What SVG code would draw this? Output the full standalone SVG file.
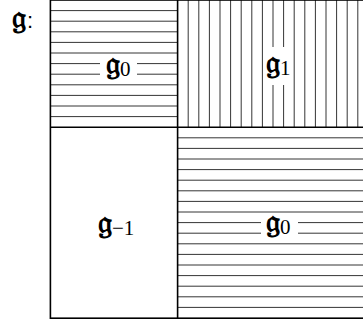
<svg xmlns="http://www.w3.org/2000/svg" width="363" height="322" viewBox="0 0 363 322">
<style>
.h{stroke:#000;stroke-width:0.8;fill:none}
.b{stroke:#000;stroke-width:1.6;fill:none}
.gap{fill:#fff;stroke:none}
.fr{font-family:"DejaVu Serif","DejaVu Sans",serif;font-size:32px;font-weight:bold;fill:#000}
.sub{font-family:"Liberation Serif",serif;font-size:21px;font-weight:normal}
</style>
<rect width="363" height="322" fill="#fff"/>
<g id="hatch-top-left">
<path class="h" d="M50.4 10.6H177.6M50.4 21.2H177.6M50.4 31.8H177.6M50.4 42.4H177.6M50.4 53H177.6M50.4 63.6H177.6M50.4 74.2H177.6M50.4 84.8H177.6M50.4 95.4H177.6M50.4 106H177.6M50.4 116.6H177.6"/>
</g>
<g id="hatch-top-right">
<path class="h" d="M188.2 0V127.2M198.8 0V127.2M209.4 0V127.2M220 0V127.2M230.6 0V127.2M241.2 0V127.2M251.8 0V127.2M262.4 0V127.2M273 0V127.2M283.6 0V127.2M294.2 0V127.2M304.8 0V127.2M315.4 0V127.2M326 0V127.2M336.6 0V127.2M347.2 0V127.2M357.8 0V127.2"/>
</g>
<g id="hatch-bottom-right">
<path class="h" d="M177.6 137.8H368.4M177.6 148.4H368.4M177.6 159H368.4M177.6 169.6H368.4M177.6 180.2H368.4M177.6 190.8H368.4M177.6 201.4H368.4M177.6 212H368.4M177.6 222.6H368.4M177.6 233.2H368.4M177.6 243.8H368.4M177.6 254.4H368.4M177.6 265H368.4M177.6 275.6H368.4M177.6 286.2H368.4M177.6 296.8H368.4M177.6 307.4H368.4"/>
</g>
<g id="frame">
<rect class="b" x="50.4" y="0" width="318" height="318.2"/>
<path class="b" d="M177.6 0V318.2M50.4 127.2H368.4"/>
</g>
<text class="fr" x="12" y="28">𝔤<tspan font-family="Liberation Sans, sans-serif" font-weight="normal" font-size="22" dx="1">:</tspan></text>
<g id="node-g0-top">
<rect class="gap" x="100" y="57" width="37" height="25"/>
<text class="fr" x="106" y="74">𝔤<tspan class="sub" dy="2">0</tspan></text>
</g>
<g id="node-g1">
<rect class="gap" x="266" y="47" width="26" height="38"/>
<text class="fr" x="266" y="73">𝔤<tspan class="sub" dy="2">1</tspan></text>
</g>
<g id="node-gm1">
<text class="fr" x="98" y="233">𝔤<tspan class="sub" dy="2">−1</tspan></text>
</g>
<g id="node-g0-bottom">
<rect class="gap" x="261" y="216" width="37" height="24"/>
<text class="fr" x="266" y="232">𝔤<tspan class="sub" dy="2">0</tspan></text>
</g>
</svg>
